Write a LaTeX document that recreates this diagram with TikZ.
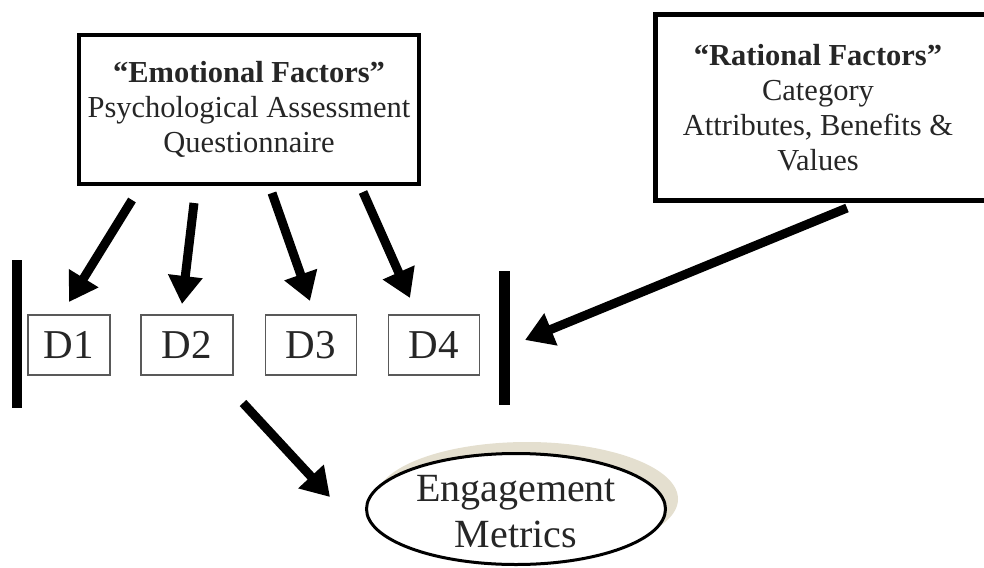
\documentclass[tikz,border=0pt]{standalone}
\usepackage{fontspec}
\setmainfont{Liberation Serif}
\usetikzlibrary{arrows.meta,shapes.geometric}
\definecolor{shadowc}{HTML}{E4DFCF}
\definecolor{txt}{HTML}{262626}
\begin{document}
\begin{tikzpicture}[x=1pt,y=-1pt,
  bigbox/.style={draw=black, line width=4pt, fill=white, inner sep=0pt, align=center,
    text=txt, font=\fontsize{30.5}{35}\selectfont},
  boxtext/.style={inner sep=0pt, align=center, text=txt, font=\fontsize{30.5}{35}\selectfont},
  dbox/.style={draw=black!65, line width=1.4pt, inner sep=0pt, minimum height=60pt,
    text=txt, font=\fontsize{41}{41}\selectfont},
  fat/.style={line width=9pt, -{Triangle[length=28pt,width=33pt]}},
  ovalbox/.style={ellipse, draw=black, line width=3pt, fill=white, inner sep=0pt,
    minimum width=299pt, minimum height=111pt},
  engtext/.style={align=center, text=txt, font=\fontsize{40}{46}\selectfont, inner sep=0pt},
  barfill/.style={fill=black}
]
\useasboundingbox (0,0) rectangle (984,567);

% top boxes
\node[bigbox, minimum width=340pt, minimum height=149pt] (emo) at (249,109.5)
  {\textbf{“Emotional Factors”}\\Psychological Assessment\\Questionnaire};
\node[bigbox, line width=5pt, minimum width=347pt, minimum height=186pt] (rat) at (829,107.5) {};
\node[boxtext] (ratt) at (818,107.5)
  {\textbf{“Rational Factors”}\\Category\\Attributes, Benefits \&\\Values};

% D boxes
\node[dbox, minimum width=82pt] (d1) at (69,345) {D1};
\node[dbox, minimum width=92pt] (d2) at (187,345) {D2};
\node[dbox, minimum width=91pt] (d3) at (311,345) {D3};
\node[dbox, minimum width=91pt] (d4) at (434,345) {D4};

% bars
\fill[barfill] (12,260) rectangle (22,408);
\fill[barfill] (499,271) rectangle (510,405);

% engagement ellipse with shadow
\node[ellipse, fill=shadowc, inner sep=0pt, minimum width=302pt, minimum height=114pt] (shadow) at (527,499) {};
\node[ovalbox] (eng) at (516,509) {};
\node[engtext] (engt) at (516,512) {Engagement\\Metrics};

% arrow anchors
\coordinate (a1s) at (132,200); \coordinate (a1e) at (69,302);
\coordinate (a2s) at (194,203); \coordinate (a2e) at (182,304);
\coordinate (a3s) at (272,193); \coordinate (a3e) at (310,301);
\coordinate (a4s) at (363,192); \coordinate (a4e) at (410,298);
\coordinate (ras) at (847,208); \coordinate (rae) at (525,340);
\coordinate (ens) at (243,403); \coordinate (ene) at (330,497);

\draw[fat] (a1s) -- (a1e);
\draw[fat] (a2s) -- (a2e);
\draw[fat] (a3s) -- (a3e);
\draw[fat] (a4s) -- (a4e);
\draw[fat] (ras) -- (rae);
\draw[fat] (ens) -- (ene);
\end{tikzpicture}
\end{document}
